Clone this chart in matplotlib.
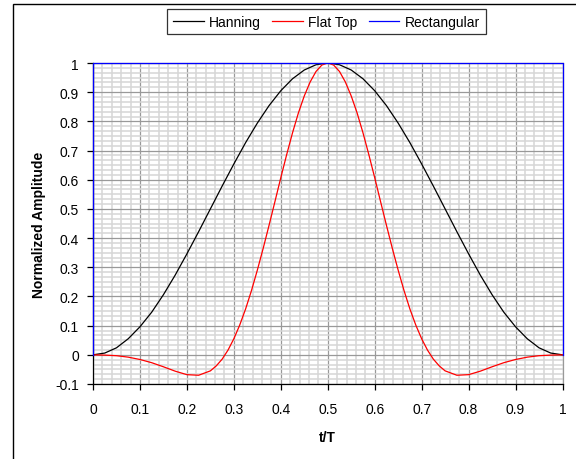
import matplotlib
matplotlib.use("Agg")
import matplotlib.pyplot as plt
from matplotlib.patches import Rectangle
from matplotlib.ticker import MultipleLocator, FuncFormatter

plt.rcParams["font.family"] = ["Liberation Sans", "DejaVu Sans"]
plt.rcParams["axes.unicode_minus"] = False

# window shapes sampled over one period t/T
t = [0.0, 0.025, 0.05, 0.075, 0.1, 0.125, 0.15, 0.175, 0.2, 0.225, 0.25,
     0.275, 0.3, 0.325, 0.35, 0.375, 0.4, 0.425, 0.45, 0.475, 0.5,
     0.525, 0.55, 0.575, 0.6, 0.625, 0.65, 0.675, 0.7, 0.725, 0.75,
     0.775, 0.8, 0.825, 0.85, 0.875, 0.9, 0.925, 0.95, 0.975, 1.0]
hanning = [0.0, 0.006, 0.024, 0.055, 0.096, 0.146, 0.206, 0.273, 0.346, 0.422, 0.5,
           0.578, 0.654, 0.727, 0.794, 0.854, 0.905, 0.946, 0.976, 0.994, 1.0,
           0.994, 0.976, 0.946, 0.905, 0.854, 0.794, 0.727, 0.654, 0.578, 0.5,
           0.422, 0.346, 0.273, 0.206, 0.146, 0.096, 0.055, 0.024, 0.006, 0.0]

# flat top is sampled finer through the main lobe
t_ft = [0.0, 0.025, 0.05, 0.075, 0.1, 0.125, 0.15, 0.175, 0.2, 0.225, 0.25,
        0.2625, 0.275, 0.2875, 0.3, 0.3125, 0.325, 0.3375, 0.35, 0.3625,
        0.375, 0.3875, 0.4, 0.4125, 0.425, 0.4375, 0.45, 0.4625, 0.475, 0.4875,
        0.5, 0.5125, 0.525, 0.5375, 0.55, 0.5625, 0.575, 0.5875, 0.6, 0.6125,
        0.625, 0.6375, 0.65, 0.6625, 0.675, 0.6875, 0.7, 0.7125, 0.725, 0.7375,
        0.75, 0.775, 0.8, 0.825, 0.85, 0.875, 0.9, 0.925, 0.95, 0.975, 1.0]
flat_top = [0.0, -0.001, -0.003, -0.008, -0.016, -0.027, -0.041, -0.056, -0.068, -0.070, -0.055,
            -0.038, -0.015, 0.016, 0.055, 0.102, 0.157, 0.220, 0.290, 0.365,
            0.444, 0.525, 0.607, 0.686, 0.761, 0.829, 0.887, 0.935, 0.971, 0.993,
            1.0, 0.993, 0.971, 0.935, 0.887, 0.829, 0.761, 0.686, 0.607, 0.525,
            0.444, 0.365, 0.290, 0.220, 0.157, 0.102, 0.055, 0.016, -0.015, -0.038,
            -0.055, -0.070, -0.068, -0.056, -0.041, -0.027, -0.016, -0.008, -0.003, -0.001, 0.0]
rect_t = [0.0, 0.0, 1.0, 1.0]
rectangular = [0.0, 1.0, 1.0, 0.0]

fig = plt.figure(figsize=(5.76, 4.60), dpi=100)
ax = fig.add_axes([93 / 576, 1 - 385 / 460, 469.5 / 576, 321 / 460])

# outer chart frame
fig.patches.append(Rectangle((13 / 576, -0.1), 1.2, 1 - 5 / 460 + 0.1,
                             transform=fig.transFigure, fill=False,
                             edgecolor="black", linewidth=1.0))

ax.plot(t, hanning, color="black", linewidth=0.9, label="Hanning")
ax.plot(t_ft, flat_top, color="#ff0000", linewidth=0.9, label="Flat Top")
ax.plot(rect_t, rectangular, color="#0000ff", linewidth=0.9, label="Rectangular",
        clip_on=False, zorder=5)

ax.set_xlim(0, 1)
ax.set_ylim(-0.1, 1)
ax.xaxis.set_major_locator(MultipleLocator(0.1))
ax.yaxis.set_major_locator(MultipleLocator(0.1))
ax.xaxis.set_minor_locator(MultipleLocator(0.02))
ax.yaxis.set_minor_locator(MultipleLocator(0.1 / 6))
fmt = FuncFormatter(lambda v, _: f"{round(v, 2):g}")
ax.xaxis.set_major_formatter(fmt)
ax.yaxis.set_major_formatter(fmt)

ax.grid(which="minor", color="#d6d6d6", linewidth=1.1)
ax.grid(which="major", color="#999999", linewidth=0.9)
ax.set_axisbelow(True)

ax.tick_params(which="major", direction="out", length=4, width=0.9,
               labelsize=10, pad=6, colors="black")
ax.tick_params(which="minor", length=0)
ax.tick_params(axis="x", pad=9)

for side in ("top", "right"):
    ax.spines[side].set_color("#999999")
    ax.spines[side].set_linewidth(0.9)
for side in ("left", "bottom"):
    ax.spines[side].set_color("black")
    ax.spines[side].set_linewidth(0.9)

ax.set_xlabel("t/T", fontsize=10, fontweight="bold", labelpad=10)
ax.set_ylabel("Normalized Amplitude", fontsize=10, fontweight="bold", labelpad=7)

leg = fig.legend(loc="center", bbox_to_anchor=(326.5 / 576, 1 - 22.5 / 460),
                 ncol=3, fontsize=10, frameon=True, fancybox=False,
                 handlelength=2.2, columnspacing=0.8, handletextpad=0.4,
                 borderpad=0.4)
leg.get_frame().set_edgecolor("black")
leg.get_frame().set_linewidth(0.9)

fig.savefig("out.png", dpi=100)
